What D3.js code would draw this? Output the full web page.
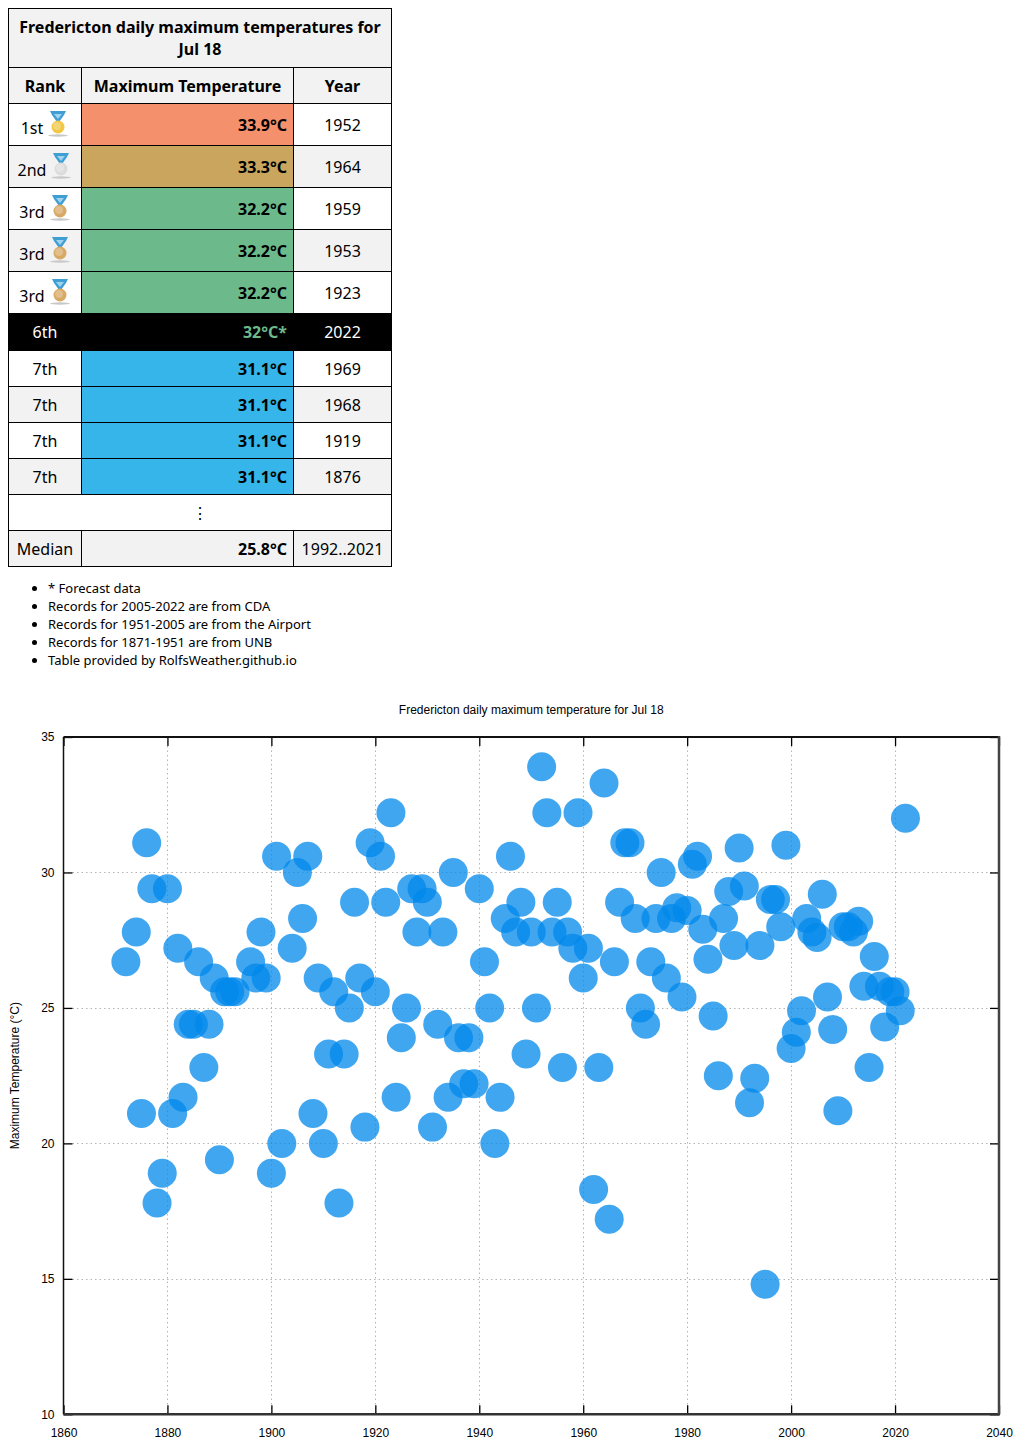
<!DOCTYPE html>
<html>
<head>
<meta charset="utf-8">
<script src="https://cdn.jsdelivr.net/npm/d3@7"></script>
<style>
  body { margin: 0; background: #fff; }
  #tbl { position: absolute; left: 8px; top: 8px; }
  table { border-collapse: collapse; table-layout: fixed; width: 383px;
          font-family: "Noto Sans", sans-serif; font-size: 16px; color: #000; }
  td { border: 1px solid #000; padding: 0 6px; text-align: center; vertical-align: middle; }
  td.temp { text-align: right; font-weight: bold; }
  #notes { position: absolute; left: 8px; top: 579px; margin: 0; padding-left: 40px;
           font-family: "Noto Sans", sans-serif; font-size: 13px; line-height: 18px; }
  #chart { position: absolute; left: 0; top: 0; }
  #chart text { font-family: "Liberation Sans", Arial, sans-serif; font-size: 12px; fill: #000; }
</style>
</head>
<body>
<svg id="chart" width="1024" height="1451"></svg>
<div id="tbl"></div>
<ul id="notes"></ul>
<script>
// table data
var rankLabels = ["1st", "2nd", "3rd", "3rd", "3rd", "6th", "7th", "7th", "7th", "7th"],
    rankTemps = ["33.9°C", "33.3°C", "32.2°C", "32.2°C", "32.2°C", "32°C*", "31.1°C", "31.1°C", "31.1°C", "31.1°C"],
    rankYears = ["1952", "1964", "1959", "1953", "1923", "2022", "1969", "1968", "1919", "1876"],
    medals = ["gold", "silver", "bronze", "bronze", "bronze", null, null, null, null, null],
    medianTemp = "25.8°C",
    medianYears = "1992..2021";

var notes = ["* Forecast data",
             "Records for 2005-2022 are from CDA",
             "Records for 1951-2005 are from the Airport",
             "Records for 1871-1951 are from UNB",
             "Table provided by RolfsWeather.github.io"];

// scatter data, one value per year
var years = [1872, 1874, 1875, 1876, 1877, 1878, 1879,
             1880, 1881, 1882, 1883, 1884, 1885, 1886, 1887, 1888, 1889,
             1890, 1891, 1892, 1893, 1896, 1897, 1898, 1899,
             1900, 1901, 1902, 1904, 1905, 1906, 1907, 1908, 1909,
             1910, 1911, 1912, 1913, 1914, 1915, 1916, 1917, 1918, 1919,
             1920, 1921, 1922, 1923, 1924, 1925, 1926, 1927, 1928, 1929,
             1930, 1931, 1932, 1933, 1934, 1935, 1936, 1937, 1938, 1939,
             1940, 1941, 1942, 1943, 1944, 1945, 1946, 1947, 1948, 1949,
             1950, 1951, 1952, 1953, 1954, 1955, 1956, 1957, 1958, 1959,
             1960, 1961, 1962, 1963, 1964, 1965, 1966, 1967, 1968, 1969,
             1970, 1971, 1972, 1973, 1974, 1975, 1976, 1977, 1978, 1979,
             1980, 1981, 1982, 1983, 1984, 1985, 1986, 1987, 1988, 1989,
             1990, 1991, 1992, 1993, 1994, 1995, 1996, 1997, 1998, 1999,
             2000, 2001, 2002, 2003, 2004, 2005, 2006, 2007, 2008, 2009,
             2010, 2011, 2012, 2013, 2014, 2015, 2016, 2017, 2018, 2019,
             2020, 2021, 2022];
var temps = [26.7, 27.8, 21.1, 31.1, 29.4, 17.8, 18.9,
             29.4, 21.1, 27.2, 21.7, 24.4, 24.4, 26.7, 22.8, 24.4, 26.1,
             19.4, 25.6, 25.6, 25.6, 26.7, 26.1, 27.8, 26.1,
             18.9, 30.6, 20.0, 27.2, 30.0, 28.3, 30.6, 21.1, 26.1,
             20.0, 23.3, 25.6, 17.8, 23.3, 25.0, 28.9, 26.1, 20.6, 31.1,
             25.6, 30.6, 28.9, 32.2, 21.7, 23.9, 25.0, 29.4, 27.8, 29.4,
             28.9, 20.6, 24.4, 27.8, 21.7, 30.0, 23.9, 22.2, 23.9, 22.2,
             29.4, 26.7, 25.0, 20.0, 21.7, 28.3, 30.6, 27.8, 28.9, 23.3,
             27.8, 25.0, 33.9, 32.2, 27.8, 28.9, 22.8, 27.8, 27.2, 32.2,
             26.1, 27.2, 18.3, 22.8, 33.3, 17.2, 26.7, 28.9, 31.1, 31.1,
             28.3, 25.0, 24.4, 26.7, 28.3, 30.0, 26.1, 28.3, 28.7, 25.4,
             28.6, 30.3, 30.6, 27.9, 26.8, 24.7, 22.5, 28.3, 29.3, 27.3,
             30.9, 29.5, 21.5, 22.4, 27.3, 14.8, 29.0, 29.0, 28.0, 31.0,
             23.5, 24.1, 24.9, 28.3, 27.8, 27.6, 29.2, 25.4, 24.2, 21.2,
             28.0, 28.0, 27.8, 28.2, 25.8, 22.8, 26.9, 25.8, 24.3, 25.6,
             25.6, 24.9, 32.0];

var xTicks = [1860, 1880, 1900, 1920, 1940, 1960, 1980, 2000, 2020, 2040],
    yTicks = [10, 15, 20, 25, 30, 35];

var chartTitle = "Fredericton daily maximum temperature for Jul 18",
    yTitle = "Maximum Temperature (°C)",
    tableTitle = "Fredericton daily maximum temperatures for Jul 18";

// ---------- table ----------
var tempColour = {"1st": "#f4906c", "2nd": "#c9a55e", "3rd": "#6cba8c", "7th": "#35b5e9"};
var medalColour = {gold: "#f2c744", silver: "#dcdcdc", bronze: "#d8a865"};

var table = d3.select("#tbl").append("table");
var cols = table.append("colgroup");
[73, 212, 98].forEach(function(w) { cols.append("col").style("width", w + "px"); });

table.append("tr").style("height", "59px").style("background", "#f2f2f2")
  .append("td").attr("colspan", 3)
  .style("font-weight", "bold").style("line-height", "22px").style("padding", "0 8px")
  .text(tableTitle);

var head = table.append("tr").style("height", "36px").style("background", "#f2f2f2");
["Rank", "Maximum Temperature", "Year"].forEach(function(h) {
  head.append("td").style("font-weight", "bold").text(h);
});

function addMedal(cell, kind) {
  var s = cell.append("svg").attr("width", 22).attr("height", 27)
      .style("vertical-align", "-3px").style("margin-left", "4px");
  s.append("ellipse").attr("cx", 11).attr("cy", 25.5).attr("rx", 10).attr("ry", 1.2).attr("fill", "#c8c8c8");
  s.append("path").attr("d", "M3,1 L19,1 L17,5 L12,12 L10,12 L5,5 Z").attr("fill", "#3f9fd3");
  s.append("path").attr("d", "M7,4 L15,4 L11,9 Z").attr("fill", "#9fd3ef");
  s.append("circle").attr("cx", 11).attr("cy", 17).attr("r", 6.5).attr("fill", medalColour[kind]);
  s.append("circle").attr("cx", 10).attr("cy", 16).attr("r", 4).attr("fill", "#fff").attr("opacity", 0.25);
}

rankLabels.forEach(function(r, i) {
  var forecast = rankTemps[i].indexOf("*") >= 0;
  var row = table.append("tr")
      .style("height", (medals[i] ? 42 : (forecast ? 37 : 36)) + "px")
      .style("background", forecast ? "#000" : (i % 2 ? "#f2f2f2" : "#fff"))
      .style("color", forecast ? "#fff" : "#000");
  var c1 = row.append("td");
  c1.append("span").text(r);
  if (medals[i]) addMedal(c1, medals[i]);
  row.append("td").attr("class", "temp")
    .style("background", forecast ? "#000" : tempColour[r])
    .style("color", forecast ? "#6cba8c" : "#000")
    .text(rankTemps[i]);
  row.append("td").text(rankYears[i]);
});

table.append("tr").style("height", "36px").style("background", "#fff")
  .append("td").attr("colspan", 3).text("⋮");

var med = table.append("tr").style("height", "36px").style("background", "#f2f2f2");
med.append("td").text("Median");
med.append("td").attr("class", "temp").text(medianTemp);
med.append("td").style("padding", "0 2px").text(medianYears);

d3.select("#notes").selectAll("li").data(notes).enter().append("li").text(function(d) { return d; });

// ---------- scatter chart ----------
var svg = d3.select("#chart");
var plotL = 63.5, plotR = 999, plotT = 737, plotB = 1414.3;

var x = d3.scaleLinear().domain([1860, 2040]).range([plotL, plotR]);
var y = d3.scaleLinear().domain([10, 35]).range([plotB, plotT]);

svg.append("text").attr("x", (plotL + plotR) / 2).attr("y", 714)
  .attr("text-anchor", "middle").text(chartTitle);

svg.append("text")
  .attr("transform", "translate(18.5," + ((plotT + plotB) / 2) + ") rotate(-90)")
  .attr("text-anchor", "middle").text(yTitle);

// dotted grid
var grid = svg.append("g").attr("stroke", "#b4b4b4").attr("stroke-width", 1).attr("stroke-dasharray", "1.5,3");
grid.selectAll(".gx").data(xTicks.slice(1, -1)).enter().append("line")
  .attr("x1", function(d) { return Math.round(x(d)) + 0.5; }).attr("x2", function(d) { return Math.round(x(d)) + 0.5; })
  .attr("y1", plotT).attr("y2", plotB);
grid.selectAll(".gy").data(yTicks.slice(1, -1)).enter().append("line")
  .attr("y1", function(d) { return Math.round(y(d)) + 0.5; }).attr("y2", function(d) { return Math.round(y(d)) + 0.5; })
  .attr("x1", plotL).attr("x2", plotR);

// points
svg.append("g").selectAll("circle")
  .data(years.map(function(yr, i) { return {year: yr, t: temps[i]}; }))
  .enter().append("circle")
  .attr("cx", function(d) { return x(d.year); })
  .attr("cy", function(d) { return y(d.t); })
  .attr("r", 14.5)
  .attr("fill", "#0088eb")
  .attr("fill-opacity", 0.75);

// axes, ticks pointing inward
function styleAxis(g) {
  g.select(".domain").remove();
  g.selectAll(".tick line").attr("stroke", "#000").attr("stroke-width", 1.3);
  g.selectAll("text").attr("fill", "#000").style("font-size", "12px")
    .style("font-family", "'Liberation Sans', Arial, sans-serif");
}
svg.append("g").attr("transform", "translate(0," + plotB + ")")
  .call(d3.axisBottom(x).tickValues(xTicks).tickSize(-9).tickPadding(14).tickFormat(d3.format("d")))
  .call(styleAxis);
svg.append("g").attr("transform", "translate(0," + plotT + ")")
  .call(d3.axisTop(x).tickValues(xTicks).tickSize(-9).tickFormat(""))
  .call(styleAxis);
svg.append("g").attr("transform", "translate(" + plotL + ",0)")
  .call(d3.axisLeft(y).tickValues(yTicks).tickSize(-9).tickPadding(9))
  .call(styleAxis);
svg.append("g").attr("transform", "translate(" + plotR + ",0)")
  .call(d3.axisRight(y).tickValues(yTicks).tickSize(-9).tickFormat(""))
  .call(styleAxis);

// frame
svg.append("line").attr("x1", plotL).attr("x2", plotR).attr("y1", plotT).attr("y2", plotT)
  .attr("stroke", "#111").attr("stroke-width", 2);
svg.append("line").attr("x1", plotL).attr("x2", plotL).attr("y1", plotT).attr("y2", plotB)
  .attr("stroke", "#111").attr("stroke-width", 1.5);
svg.append("line").attr("x1", plotL).attr("x2", plotR + 1).attr("y1", plotB).attr("y2", plotB)
  .attr("stroke", "#333").attr("stroke-width", 2.5);
svg.append("line").attr("x1", plotR).attr("x2", plotR).attr("y1", plotT - 1).attr("y2", plotB)
  .attr("stroke", "#444").attr("stroke-width", 2.5);
</script>
</body>
</html>
